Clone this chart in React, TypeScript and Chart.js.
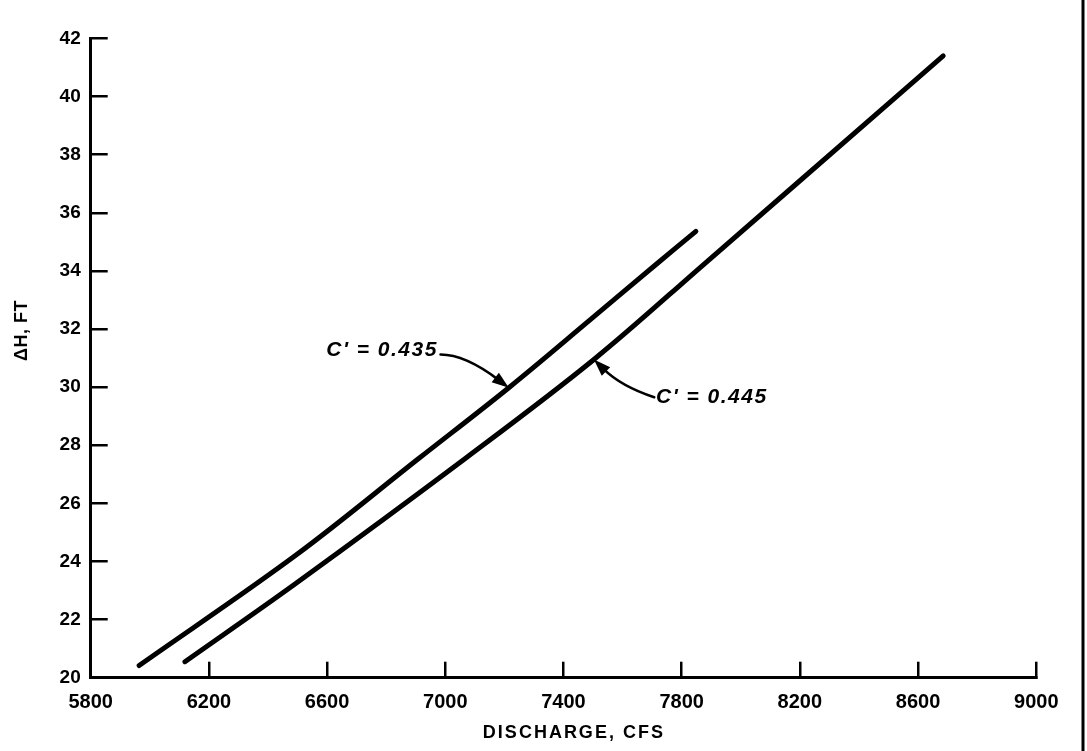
import React, { useEffect, useRef } from "react";
import { Chart, registerables } from "chart.js";

Chart.register(...registerables);

// ---- data ----
const xMin = 5800;
const xMax = 9000;
const xStep = 400;
const yMin = 20;
const yMax = 42;
const yStep = 2;

const q435 = [5964, 6495, 6911, 7215, 7492, 7713, 7848];
const h435 = [20.42, 24.22, 27.55, 29.98, 32.33, 34.22, 35.36];

const q445 = [6119, 6495, 7071, 7503, 7880, 8489, 8685];
const h445 = [20.55, 23.25, 27.57, 30.95, 34.27, 39.66, 41.4];

const label435 = "C' = 0.435";
const label445 = "C' = 0.445";
const xTitle = "DISCHARGE, CFS";
const yTitle = "\u0394H, FT";

// annotation anchors in data units: [textX, textY, startX, startY, ctrlX, ctrlY, tipX, tipY]
const ann435 = [6975, 31.26, 6984, 31.12, 7067, 31.12, 7215, 29.98];
const ann445 = [7713, 29.65, 7707, 29.65, 7594, 30.03, 7503, 30.95];

const FONT = '"Liberation Sans", Arial, Helvetica, sans-serif';

function drawArrow(ctx: CanvasRenderingContext2D, x: any, y: any, a: number[]) {
  const sx = x.getPixelForValue(a[2]);
  const sy = y.getPixelForValue(a[3]);
  const cx = x.getPixelForValue(a[4]);
  const cy = y.getPixelForValue(a[5]);
  const tx = x.getPixelForValue(a[6]);
  const ty = y.getPixelForValue(a[7]);
  const ang = Math.atan2(ty - cy, tx - cx);
  const headLen = 17;
  const headW = 6;
  const bx = tx - Math.cos(ang) * headLen;
  const by = ty - Math.sin(ang) * headLen;
  ctx.beginPath();
  ctx.moveTo(sx, sy);
  ctx.quadraticCurveTo(cx, cy, bx + Math.cos(ang) * 4, by + Math.sin(ang) * 4);
  ctx.lineWidth = 2.6;
  ctx.strokeStyle = "#000";
  ctx.lineCap = "round";
  ctx.stroke();
  ctx.beginPath();
  ctx.moveTo(tx, ty);
  ctx.lineTo(bx + Math.cos(ang + Math.PI / 2) * headW, by + Math.sin(ang + Math.PI / 2) * headW);
  ctx.lineTo(bx - Math.cos(ang + Math.PI / 2) * headW, by - Math.sin(ang + Math.PI / 2) * headW);
  ctx.closePath();
  ctx.fillStyle = "#000";
  ctx.fill();
}

const overlay = {
  id: "overlay",
  afterDraw(chart: any) {
    const { ctx, scales, chartArea } = chart;
    const x = scales.x;
    const y = scales.y;
    ctx.save();
    ctx.fillStyle = "#000";

    // annotation labels
    ctx.font = `italic bold 21px ${FONT}`;
    (ctx as any).letterSpacing = "1.5px";
    ctx.textBaseline = "middle";
    ctx.textAlign = "right";
    ctx.fillText(label435, x.getPixelForValue(ann435[0]), y.getPixelForValue(ann435[1]));
    ctx.textAlign = "left";
    ctx.fillText(label445, x.getPixelForValue(ann445[0]), y.getPixelForValue(ann445[1]));

    drawArrow(ctx, x, y, ann435);
    drawArrow(ctx, x, y, ann445);

    // axis titles
    ctx.fillStyle = "#000";
    ctx.font = `bold 18px ${FONT}`;
    (ctx as any).letterSpacing = "2px";
    ctx.textAlign = "center";
    ctx.textBaseline = "middle";
    ctx.fillText(xTitle, chartArea.left + (chartArea.right - chartArea.left) * 0.511, chart.height - 18);
    (ctx as any).letterSpacing = "0.5px";
    ctx.save();
    ctx.translate(22, chartArea.top + (chartArea.bottom - chartArea.top) * 0.457);
    ctx.rotate(-Math.PI / 2);
    ctx.fillText(yTitle, 0, 0);
    ctx.restore();
    (ctx as any).letterSpacing = "0px";

    // scanned page edge on the right
    ctx.beginPath();
    ctx.moveTo(chart.width - 4, 0);
    ctx.lineTo(chart.width - 4, chart.height);
    ctx.lineWidth = 3;
    ctx.strokeStyle = "#000";
    ctx.stroke();

    ctx.restore();
  },
};

export default function App() {
  const ref = useRef<HTMLCanvasElement | null>(null);

  useEffect(() => {
    if (!ref.current) return;
    Chart.defaults.font.family = FONT;
    const chart = new Chart(ref.current, {
      type: "line",
      data: {
        datasets: [
          {
            label: label435,
            data: q435.map((q, i) => ({ x: q, y: h435[i] })),
            borderColor: "#000",
            borderWidth: 5,
            pointRadius: 0,
            tension: 0.35,
            borderCapStyle: "round",
            fill: false,
          },
          {
            label: label445,
            data: q445.map((q, i) => ({ x: q, y: h445[i] })),
            borderColor: "#000",
            borderWidth: 5,
            pointRadius: 0,
            tension: 0.35,
            borderCapStyle: "round",
            fill: false,
          },
        ],
      },
      options: {
        responsive: false,
        animation: false,
        devicePixelRatio: 1,
        layout: { padding: { left: 0, top: 15.7, right: 33, bottom: 0 } },
        plugins: {
          legend: { display: false },
          tooltip: { enabled: false },
          title: { display: false },
        },
        scales: {
          x: {
            type: "linear",
            min: xMin,
            max: xMax,
            afterFit: (s: any) => {
              s.height = 73.3;
            },
            ticks: {
              stepSize: xStep,
              color: "#000",
              font: { size: 20, weight: "bold" },
              padding: 28.5,
              maxRotation: 0,
              autoSkip: false,
              callback: (v: any) => String(v),
            },
            grid: {
              drawOnChartArea: false,
              drawTicks: true,
              tickLength: -16,
              color: "#000",
              lineWidth: 2.5,
            },
            border: { display: true, color: "#000", width: 3 },
          },
          y: {
            type: "linear",
            min: yMin,
            max: yMax,
            afterFit: (s: any) => {
              s.width = 90.7;
            },
            ticks: {
              stepSize: yStep,
              color: "#000",
              font: { size: 19, weight: "bold" },
              padding: 27,
              autoSkip: false,
              callback: (v: any) => String(v),
            },
            grid: {
              drawOnChartArea: false,
              drawTicks: true,
              tickLength: -17,
              color: "#000",
              lineWidth: 2.5,
            },
            border: { display: true, color: "#000", width: 3 },
          },
        },
      } as any,
      plugins: [overlay],
    });
    return () => chart.destroy();
  }, []);

  return (
    <div style={{ position: "absolute", left: 0, top: 0, width: 1087, height: 751, background: "#fff" }}>
      <canvas ref={ref} width={1087} height={751} style={{ width: 1087, height: 751, display: "block" }} />
    </div>
  );
}
